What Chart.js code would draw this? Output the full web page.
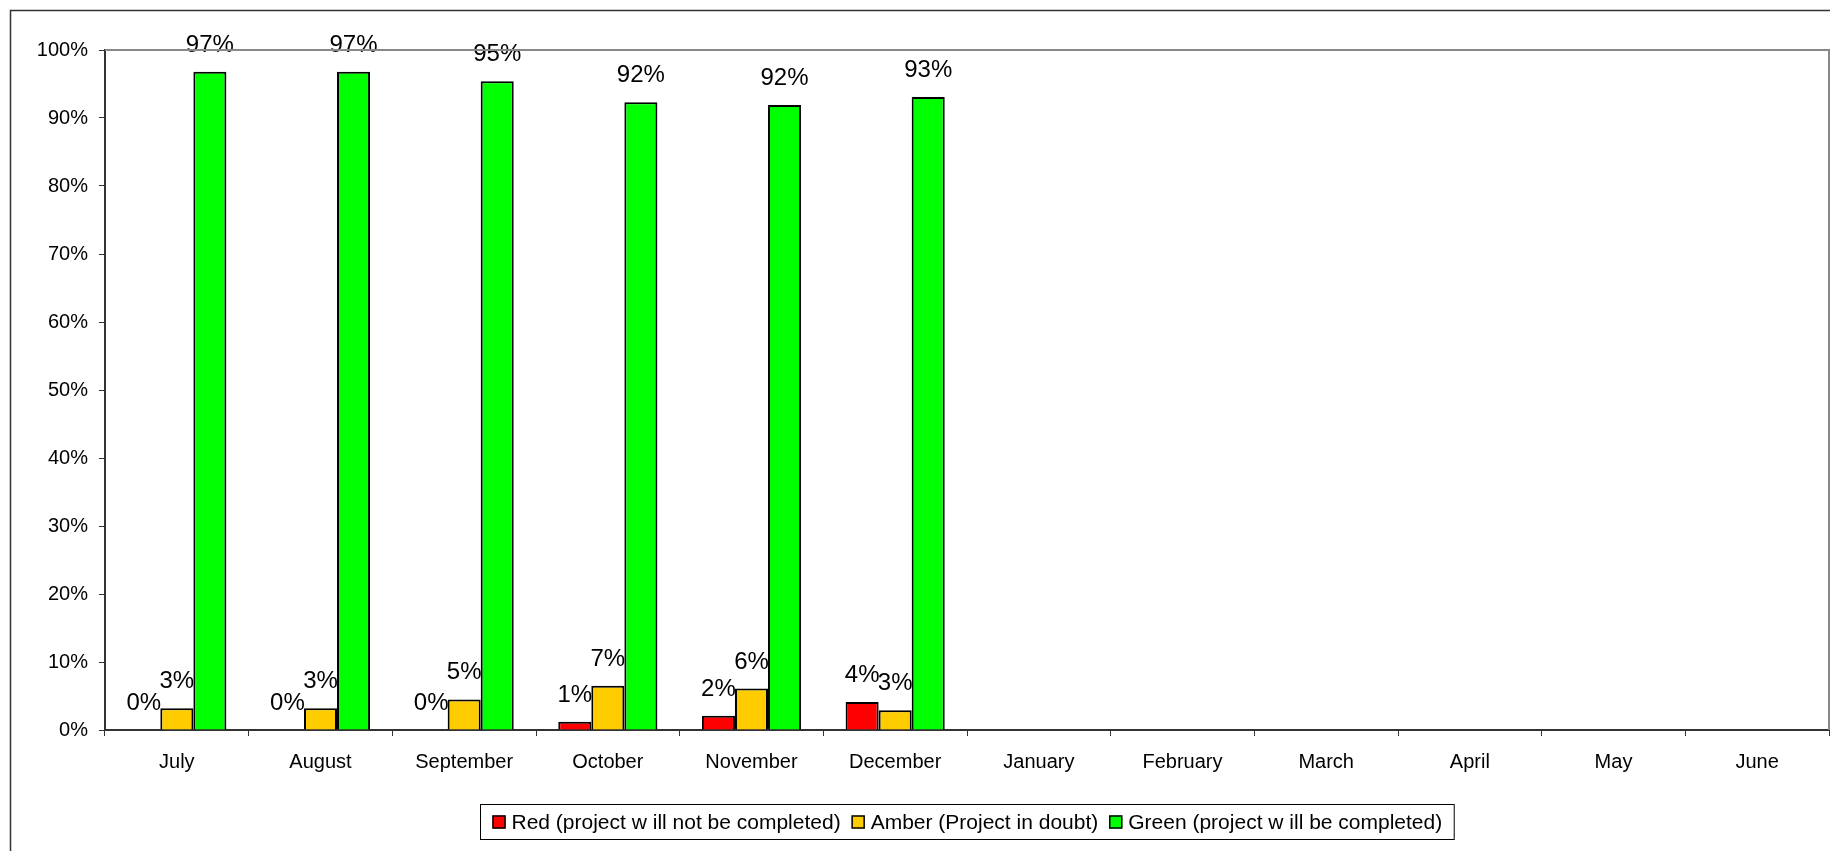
<!DOCTYPE html>
<html>
<head>
<meta charset="utf-8">
<title>Project status by month</title>
<script src="https://cdn.jsdelivr.net/npm/chart.js@4.4.1/dist/chart.umd.min.js"></script>
<style>
  html, body { margin: 0; padding: 0; background: #fff; }
  canvas { display: block; }
</style>
</head>
<body>
<canvas id="myChart" width="1830" height="851"></canvas>
<script>
// Datos del gráfico
const months = ['July', 'August', 'September', 'October', 'November', 'December',
                'January', 'February', 'March', 'April', 'May', 'June'];
const redValues   = [0, 0, 0, 1.2, 2.1, 4.1, null, null, null, null, null, null];
const amberValues = [3.2, 3.2, 4.5, 6.5, 6.1, 2.9, null, null, null, null, null, null];
const greenValues = [96.8, 96.8, 95.4, 92.3, 91.9, 93.1, null, null, null, null, null, null];
const yTicks = [0, 10, 20, 30, 40, 50, 60, 70, 80, 90, 100];

const FONT = '"Liberation Sans", Arial, sans-serif';

// Marco exterior y borde gris del área del gráfico
const framePlugin = {
    id: 'frame',
    beforeDraw(chart) {
        const ctx = chart.ctx;
        ctx.save();
        ctx.fillStyle = '#fff';
        ctx.fillRect(0, 0, chart.width, chart.height);
        ctx.strokeStyle = '#333';
        ctx.lineWidth = 1.5;
        ctx.strokeRect(10.5, 10.5, chart.width + 20, chart.height + 20);
        ctx.restore();
    },
    afterDraw(chart) {
        const a = chart.chartArea;
        const ctx = chart.ctx;
        ctx.save();
        ctx.strokeStyle = '#888';
        ctx.lineWidth = 2;
        ctx.beginPath();
        ctx.moveTo(a.left, a.top);
        ctx.lineTo(a.right, a.top);
        ctx.lineTo(a.right, a.bottom);
        ctx.stroke();
        ctx.restore();
    }
};

// Etiquetas de porcentaje encima de cada barra
const valueLabels = {
    id: 'valueLabels',
    afterDatasetsDraw(chart) {
        const ctx = chart.ctx;
        ctx.save();
        ctx.font = '24px ' + FONT;
        ctx.fillStyle = '#000';
        ctx.textAlign = 'center';
        ctx.textBaseline = 'alphabetic';
        chart.data.datasets.forEach((ds, i) => {
            const meta = chart.getDatasetMeta(i);
            meta.data.forEach((bar, j) => {
                const v = ds.data[j];
                if (v === null || v === undefined) return;
                ctx.fillText(Math.round(v) + '%', bar.x, bar.y - 20);
            });
        });
        ctx.restore();
    }
};

// Leyenda con recuadro, debajo del eje
const boxLegend = {
    id: 'boxLegend',
    afterDraw(chart) {
        const ctx = chart.ctx;
        const a = chart.chartArea;
        ctx.save();
        ctx.font = '21px ' + FONT;
        ctx.textBaseline = 'middle';
        const sq = 13, gap = 6, itemGap = 11, pad = 12;
        const items = chart.data.datasets.map(ds => ({
            label: ds.label, color: ds.backgroundColor,
            w: sq + gap + ctx.measureText(ds.label).width
        }));
        const total = items.reduce((s, it) => s + it.w, 0) + itemGap * (items.length - 1) + pad * 2;
        const cx = (a.left + a.right) / 2;
        const left = Math.round(cx - total / 2) + 0.5;
        const top = 804.5, h = 35;
        ctx.strokeStyle = '#000';
        ctx.lineWidth = 1;
        ctx.strokeRect(left, top, total, h);
        let x = left + pad;
        const cy = top + h / 2;
        items.forEach(it => {
            ctx.fillStyle = it.color;
            ctx.fillRect(x, cy - sq / 2, sq, sq);
            ctx.lineWidth = 1.5;
            ctx.strokeRect(x + 0.5, cy - sq / 2 + 0.5, sq - 1, sq - 1);
            ctx.fillStyle = '#000';
            ctx.fillText(it.label, x + sq + gap, cy + 1);
            x += it.w + itemGap;
        });
        ctx.restore();
    }
};

const ctx = document.getElementById('myChart').getContext('2d');
const myChart = new Chart(ctx, {
    type: 'bar',
    data: {
        labels: months,
        datasets: [
            { label: 'Red (project w ill not be completed)', data: redValues,
              backgroundColor: '#FF0000', borderColor: '#000', borderWidth: 2 },
            { label: 'Amber (Project in doubt)', data: amberValues,
              backgroundColor: '#FFCC00', borderColor: '#000', borderWidth: 2 },
            { label: 'Green (project w ill be completed)', data: greenValues,
              backgroundColor: '#00FF00', borderColor: '#000', borderWidth: 2 }
        ]
    },
    options: {
        responsive: false,
        animation: false,
        devicePixelRatio: 1,
        layout: { padding: { left: 10, top: 50, right: 1, bottom: 0 } },
        categoryPercentage: 0.69,
        barPercentage: 1.0,
        plugins: {
            legend: { display: false },
            tooltip: { enabled: false }
        },
        scales: {
            x: {
                offset: true,
                grid: { display: true, drawOnChartArea: false, offset: true,
                        tickLength: 6, color: '#333' },
                border: { color: '#333', width: 2 },
                ticks: { color: '#000', font: { family: FONT, size: 20 }, padding: 14,
                         maxRotation: 0, autoSkip: false },
                afterFit(scale) { scale.height = 121; }
            },
            y: {
                min: 0,
                max: 100,
                afterBuildTicks(scale) { scale.ticks = yTicks.map(v => ({ value: v })); },
                grid: { display: true, drawOnChartArea: false, tickLength: 6, color: '#333' },
                border: { color: '#333', width: 2 },
                ticks: { color: '#000', font: { family: FONT, size: 20 }, padding: 11,
                         callback: v => v + '%' },
                afterFit(scale) { scale.width = 95; }
            }
        }
    },
    plugins: [framePlugin, valueLabels, boxLegend]
});
</script>
</body>
</html>
